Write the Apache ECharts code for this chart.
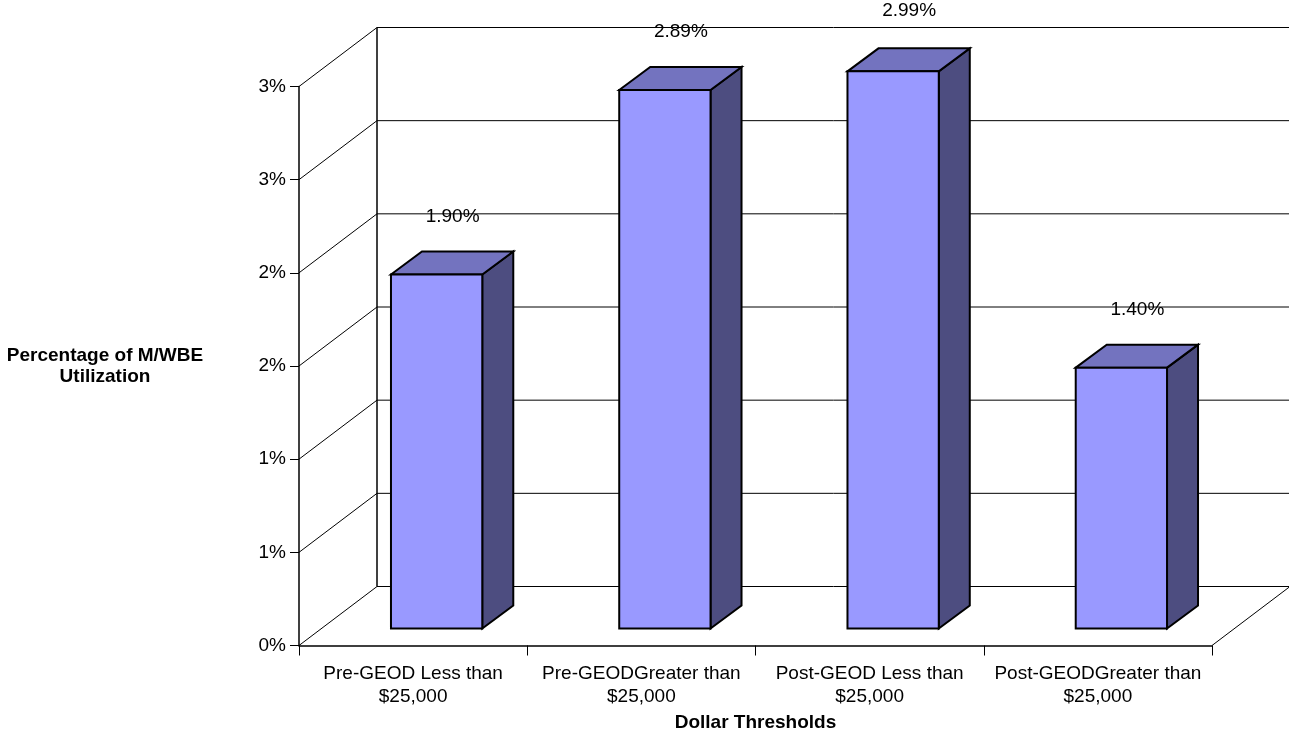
<!DOCTYPE html>
<html>
<head>
<meta charset="utf-8">
<title>M/WBE Utilization</title>
<script src="https://cdn.jsdelivr.net/npm/echarts@6/dist/echarts.min.js"></script>
<style>
  html, body { margin: 0; padding: 0; background: #fff; }
  #main { width: 1289px; height: 732px; }
</style>
</head>
<body>
<div id="main"></div>
<script>
var categories = ['Pre-GEOD Less than\n$25,000', 'Pre-GEODGreater than\n$25,000', 'Post-GEOD Less than\n$25,000', 'Post-GEODGreater than\n$25,000'];
var values = [1.90, 2.89, 2.99, 1.40];
var valueLabels = ['1.90%', '2.89%', '2.99%', '1.40%'];
var yTicks = [0, 0.5, 1, 1.5, 2, 2.5, 3];

function main() {
  var fontName = '"Liberation Sans", Arial, sans-serif';

  // depth of the fake 3d box
  var wallDx = 78, wallDy = -59;
  var barDx = 23.5, barDy = -17;
  var sideDx = 31, sideDy = -23;

  function renderWall(params, api) {
    var cs = params.coordSys;
    var y = api.coord([0, api.value(1)])[1];
    var left = cs.x, right = cs.x + cs.width;
    var children = [{
      type: 'polyline',
      shape: { points: [[left, y], [left + wallDx, y + wallDy], [right + wallDx, y + wallDy]] },
      style: { fill: null, stroke: '#000', lineWidth: 1 }
    }];
    if (params.dataIndex === 0) {
      // back corner, and the right edge of the floor
      children.push({
        type: 'line',
        shape: { x1: left + wallDx, y1: y + wallDy, x2: left + wallDx, y2: cs.y + wallDy },
        style: { stroke: '#000', lineWidth: 1.5 }
      }, {
        type: 'line',
        shape: { x1: right, y1: y, x2: right + wallDx, y2: y + wallDy },
        style: { stroke: '#000', lineWidth: 1 }
      });
    }
    return { type: 'group', children: children };
  }

  function renderBar(params, api) {
    var i = api.value(0);
    var top = api.coord([i, api.value(1)]);
    var base = api.coord([i, 0]);
    var w = api.size([1, 0])[0] * 0.4;
    var x0 = top[0] + barDx - w / 2;
    var x1 = x0 + w;
    var y0 = base[1] + barDy;
    var y1 = top[1] + barDy;
    var line = { stroke: '#000', lineWidth: 2, lineJoin: 'miter' };
    return {
      type: 'group',
      children: [{
        type: 'polygon',
        shape: { points: [[x1, y0], [x1 + sideDx, y0 + sideDy], [x1 + sideDx, y1 + sideDy], [x1, y1]] },
        style: Object.assign({ fill: '#4D4D80' }, line)
      }, {
        type: 'polygon',
        shape: { points: [[x0, y1], [x0 + sideDx, y1 + sideDy], [x1 + sideDx, y1 + sideDy], [x1, y1]] },
        style: Object.assign({ fill: '#7373BF' }, line)
      }, {
        type: 'rect',
        shape: { x: x0, y: y1, width: w, height: y0 - y1 },
        style: Object.assign({ fill: '#9999FF' }, line)
      }, {
        type: 'text',
        style: {
          text: valueLabels[i],
          x: top[0] + barDx + 16,
          // the tallest label sits a little higher in the original
          y: y1 - 58 - (i === 2 ? 3 : 0),
          align: 'center',
          verticalAlign: 'middle',
          fill: '#000',
          font: '19px ' + fontName
        }
      }]
    };
  }

  var myChart = echarts.init(document.getElementById('main'));

  var option = {
    animation: false,
    textStyle: { fontFamily: fontName, color: '#000' },
    grid: { left: 299, right: 77, top: 86.5, bottom: 86.5, outerBoundsMode: 'none' },
    tooltip: { show: false },
    xAxis: {
      type: 'category',
      data: categories,
      name: 'Dollar Thresholds',
      nameLocation: 'middle',
      nameGap: 68,
      nameTextStyle: { fontSize: 19, fontWeight: 'bold', color: '#000', fontFamily: fontName },
      axisLine: { lineStyle: { color: '#000', width: 1.5 } },
      axisTick: { show: true, length: 10, lineStyle: { color: '#000' } },
      axisLabel: { color: '#000', fontSize: 19, lineHeight: 23, margin: 17, interval: 0, fontFamily: fontName, hideOverlap: false }
    },
    yAxis: {
      type: 'value',
      min: 0,
      max: 3,
      interval: 0.5,
      name: 'Percentage of M/WBE\nUtilization',
      nameLocation: 'middle',
      nameRotate: 0,
      nameGap: 194,
      nameTextStyle: { fontSize: 19, fontWeight: 'bold', color: '#000', lineHeight: 21, align: 'center', fontFamily: fontName },
      splitLine: { show: false },
      axisLine: { show: true, lineStyle: { color: '#000', width: 1.5 } },
      axisTick: { show: true, length: 9, lineStyle: { color: '#000' } },
      axisLabel: {
        color: '#000',
        fontSize: 19,
        margin: 13,
        fontFamily: fontName,
        formatter: function (v) { return Math.round(v) + '%'; }
      }
    },
    series: [{
      type: 'custom',
      silent: true,
      z: 1,
      renderItem: renderWall,
      data: yTicks.map(function (t) { return [0, t]; })
    }, {
      type: 'custom',
      silent: true,
      z: 3,
      renderItem: renderBar,
      data: values.map(function (v, i) { return [i, v]; })
    }]
  };

  myChart.setOption(option);
}
main();
</script>
</body>
</html>
